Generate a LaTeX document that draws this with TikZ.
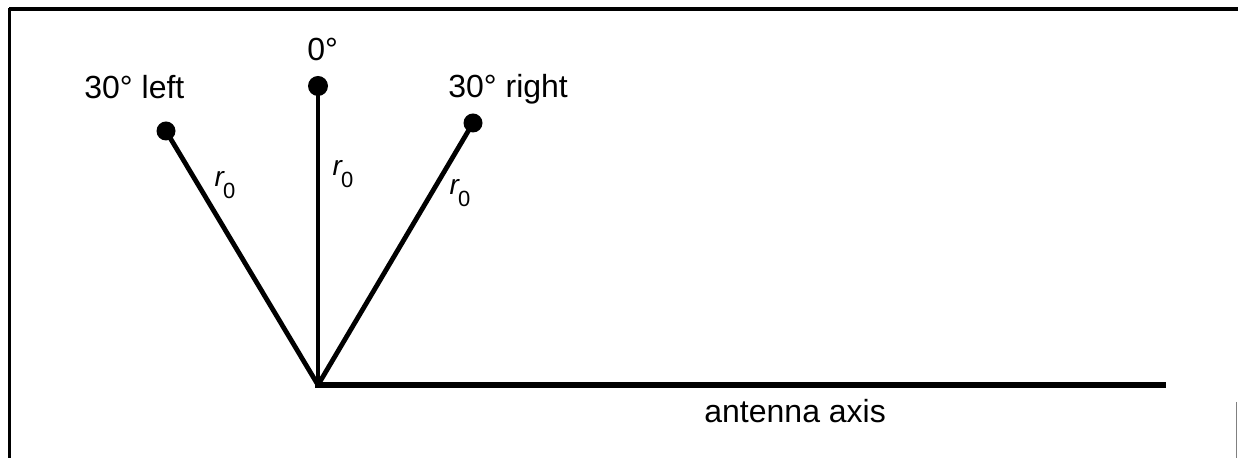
\documentclass[tikz,border=0pt]{standalone}
\usepackage{fontspec}
\setmainfont{Liberation Sans}
\newcommand\rnought{{\fontsize{14}{16}\selectfont\itshape r}\kern-0.5pt\raisebox{-6pt}{\fontsize{11}{12}\selectfont 0}}
\begin{document}
\begin{tikzpicture}[x=0.5pt,y=-0.5pt,
  dotnode/.style={circle,fill=black,inner sep=0pt,minimum size=10pt},
  lbl/.style={font=\fontsize{16}{19}\selectfont,anchor=base west,inner sep=0pt},
  rlbl/.style={inner sep=0pt,anchor=center},
  frameline/.style={line width=#1,black},
  ray/.style={line width=#1,black}]
\useasboundingbox (0,0) rectangle (1238,458);
% frame
\coordinate (tl) at (9,9);
\coordinate (tr) at (1238,9);
\coordinate (bl) at (9.5,458);
\coordinate (rb1) at (1236.8,402);
\coordinate (rb2) at (1236.8,458);
\draw[frameline=2pt] (tl) -- (tr);
\draw[frameline=1.5pt] (9.5,8) -- (bl);
\draw[line width=0.6pt,gray] (rb1) -- (rb2);
% geometry
\coordinate (O) at (318,385);
\coordinate (axisend) at (1163,385);
\node[dotnode] (top) at (318,86) {};
\node[dotnode,minimum size=9.5pt] (left) at (166,131) {};
\node[dotnode,minimum size=9.5pt] (right) at (473,123) {};
\draw[ray=1.6pt] (O) -- (top.center);
\draw[ray=2.4pt] (O) -- (left.center);
\draw[ray=2.4pt] (O) -- (right.center);
\draw[ray=3pt,line cap=rect] (O) -- (axisend);
% labels
\node[lbl] (lleft) at (84,99) {30° left};
\node[lbl] (ltop) at (307,61) {0°};
\node[lbl] (lright) at (448,98) {30° right};
\node[lbl] (laxis) at (704,423) {antenna axis};
\node[rlbl] (r1) at (225,185) {\rnought};
\node[rlbl] (r2) at (343,174) {\rnought};
\node[rlbl] (r3) at (460,193) {\rnought};
\end{tikzpicture}
\end{document}
